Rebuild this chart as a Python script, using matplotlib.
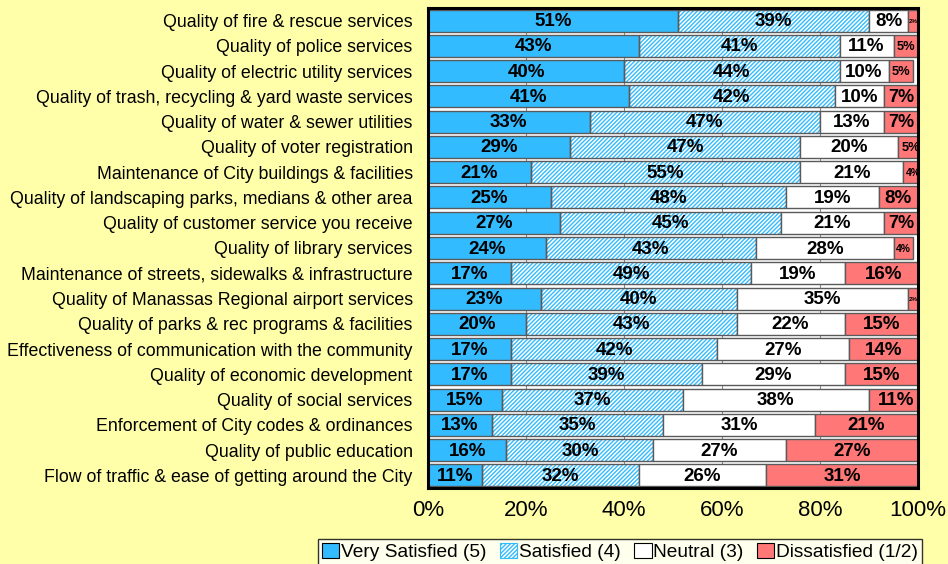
import matplotlib
matplotlib.use("Agg")
import matplotlib.pyplot as plt
from matplotlib.patches import Patch
import numpy as np

categories = [
    "Quality of fire & rescue services",
    "Quality of police services",
    "Quality of electric utility services",
    "Quality of trash, recycling & yard waste services",
    "Quality of water & sewer utilities",
    "Quality of voter registration",
    "Maintenance of City buildings & facilities",
    "Quality of landscaping parks, medians & other area",
    "Quality of customer service you receive",
    "Quality of library services",
    "Maintenance of streets, sidewalks & infrastructure",
    "Quality of Manassas Regional airport services",
    "Quality of parks & rec programs & facilities",
    "Effectiveness of communication with the community",
    "Quality of economic development",
    "Quality of social services",
    "Enforcement of City codes & ordinances",
    "Quality of public education",
    "Flow of traffic & ease of getting around the City",
]
very_satisfied = [51, 43, 40, 41, 33, 29, 21, 25, 27, 24, 17, 23, 20, 17, 17, 15, 13, 16, 11]
satisfied      = [39, 41, 44, 42, 47, 47, 55, 48, 45, 43, 49, 40, 43, 42, 39, 37, 35, 30, 32]
neutral        = [8, 11, 10, 10, 13, 20, 21, 19, 21, 28, 19, 35, 22, 27, 29, 38, 31, 27, 26]
dissatisfied   = [2, 5, 5, 7, 7, 5, 4, 8, 7, 4, 16, 2, 15, 14, 15, 11, 21, 27, 31]
series_names = ["Very Satisfied (5)", "Satisfied (4)", "Neutral (3)", "Dissatisfied (1/2)"]
xticks = [0, 20, 40, 60, 80, 100]
xtick_labels = ["0%", "20%", "40%", "60%", "80%", "100%"]

BG = "#FFFFAA"
BLUE = "#33BBFF"
RED = "#FF7777"
EDGE = "#5a5a5a"

plt.rcParams['font.family'] = ['Liberation Sans', 'DejaVu Sans']
plt.rcParams['hatch.linewidth'] = 1.0

fig = plt.figure(figsize=(9.48, 5.64), dpi=100, facecolor=BG)
ax = fig.add_axes([428/948, 1-488/564, 490/948, 480/564])
ax.set_facecolor("white")

y = np.arange(len(categories))
h = 0.87
series = [very_satisfied, satisfied, neutral, dissatisfied]
left = np.zeros(len(categories))
for i, vals in enumerate(series):
    vals = np.array(vals, dtype=float)
    if i == 1:
        ax.barh(y, vals, left=left, height=h, color="white", edgecolor=BLUE,
                hatch="////////", linewidth=0, zorder=2)
        ax.barh(y, vals, left=left, height=h, color="none", edgecolor=EDGE,
                linewidth=1.0, zorder=3)
    else:
        fc = [BLUE, None, "white", RED][i]
        ax.barh(y, vals, left=left, height=h, color=fc, edgecolor=EDGE,
                linewidth=1.0, zorder=3)
    for yy, l, v in zip(y, left, vals):
        fs = min(13.5, max(4.5, 1.85 * v))
        ax.text(l + v / 2, yy + 0.04, f"{int(v)}%", ha="center", va="center",
                fontsize=fs, fontweight="bold", color="black", zorder=5)
    left += vals

ax.set_xlim(0, 100)
ax.set_ylim(len(categories) - 0.5, -0.5)
ax.set_yticks(y)
ax.set_yticklabels(categories, fontsize=12.75)
ax.set_xticks(xticks)
ax.set_xticklabels(xtick_labels, fontsize=16)
ax.tick_params(axis="both", length=0)
ax.tick_params(axis="y", pad=11)
ax.tick_params(axis="x", pad=9)
ax.grid(axis="x", color="#888888", linewidth=0.8, zorder=1)
ax.set_axisbelow(True)
for s in ax.spines.values():
    s.set_linewidth(2.2)
    s.set_color("black")
    s.set_zorder(6)

handles = [
    Patch(facecolor=BLUE, edgecolor="black", linewidth=0.8),
    Patch(facecolor="white", edgecolor=BLUE, hatch="////////", linewidth=0.8),
    Patch(facecolor="white", edgecolor="black", linewidth=0.8),
    Patch(facecolor=RED, edgecolor="black", linewidth=0.8),
]
leg = fig.legend(handles, series_names, loc="lower left",
                 bbox_to_anchor=(318/948, -0.002), ncol=4, fontsize=13.8,
                 frameon=True, fancybox=False, edgecolor="black",
                 handlelength=0.9, handleheight=0.8, handletextpad=0.1,
                 columnspacing=0.7, borderpad=0.2, borderaxespad=0)
leg.get_frame().set_linewidth(1.0)
leg.get_frame().set_facecolor("white")

fig.savefig("out.png", dpi=100, facecolor=BG)
